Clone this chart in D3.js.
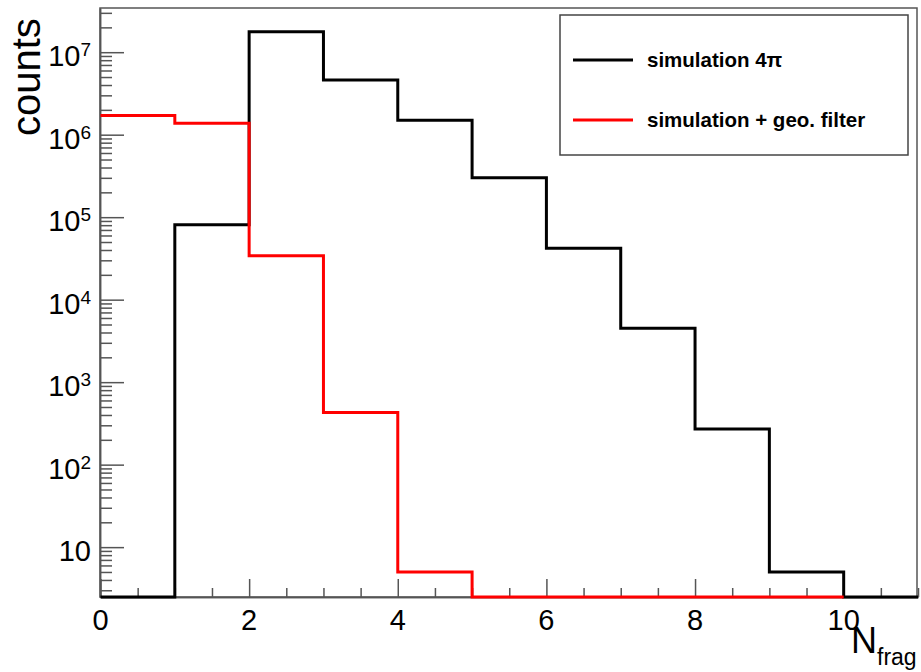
<!DOCTYPE html>
<html>
  <head>
    <style>
      body { margin: 0; background: #fff; }
      text { font-family: "Liberation Sans", Arial, Helvetica, sans-serif; fill: #000; }
      .hist { fill: none; stroke-width: 3px; stroke-linejoin: miter; }
      .axis path, .axis line { stroke: #555; stroke-width: 1.5px; }
    </style>
    <script src="https://cdn.jsdelivr.net/npm/d3@7"></script>
  </head>
  <body>
    <svg class="chart"></svg>

    <script>
      // bin edges 0..11, one count per bin
      const binEdges = [0, 1, 2, 3, 4, 5, 6, 7, 8, 9, 10, 11];
      const sim4pi = [0, 8.1e4, 1.77e7, 4.6e6, 1.5e6, 3.0e5, 4.2e4, 4.5e3, 270, 5, 0];
      const simGeo = [1.71e6, 1.38e6, 3.4e4, 430, 5, 0, 0, 0, 0, 0];
      const seriesNames = ['simulation 4\u03c0', 'simulation + geo. filter'];
      const seriesColors = ['#000', '#ff0000'];
      const xTickValues = [0, 2, 4, 6, 8, 10];
      const yMajorExps = [1, 2, 3, 4, 5, 6, 7];

      const width = 921;
      const height = 672;
      const frame = { left: 100, right: 917, top: 8, bottom: 597 };
      const yMin = 2.486;
      const yMax = 3.434e7;

      const svg = d3.select('svg')
        .attr('width', width)
        .attr('height', height);

      const x = d3.scaleLinear().domain([0, 11]).range([frame.left + 0.5, frame.right + 1]);
      const y = d3.scaleLog().domain([yMin, yMax]).range([frame.bottom, frame.top]);

      // minor ticks every 0.5 on x
      const xMinor = d3.range(0, 11.01, 0.5).filter(v => v % 2 !== 0);
      svg.append('g').attr('class', 'axis')
        .attr('transform', `translate(0,${frame.bottom})`)
        .call(d3.axisBottom(x).tickValues(xMinor).tickSize(-9).tickSizeOuter(0).tickFormat(''));
      svg.append('g').attr('class', 'axis')
        .attr('transform', `translate(0,${frame.bottom})`)
        .call(d3.axisBottom(x).tickValues(xTickValues).tickSize(-18).tickSizeOuter(0).tickFormat(''));

      // minor log ticks 2..9 x 10^k
      const yMinor = y.ticks().filter(v => {
        const m = v / Math.pow(10, Math.floor(Math.log10(v) + 1e-9));
        return Math.abs(m - 1) > 1e-6;
      });
      const yMajor = yMajorExps.map(e => Math.pow(10, e));
      svg.append('g').attr('class', 'axis')
        .attr('transform', `translate(${frame.left},0)`)
        .call(d3.axisLeft(y).tickValues(yMinor).tickSize(-12).tickSizeOuter(0).tickFormat(''));
      svg.append('g').attr('class', 'axis')
        .attr('transform', `translate(${frame.left},0)`)
        .call(d3.axisLeft(y).tickValues(yMajor).tickSize(-24).tickSizeOuter(0).tickFormat(''));

      // frame
      svg.append('rect')
        .attr('x', frame.left).attr('y', frame.top)
        .attr('width', frame.right - frame.left).attr('height', frame.bottom - frame.top)
        .attr('fill', 'none').attr('stroke', '#555').attr('stroke-width', 1.5);

      // x tick labels
      svg.selectAll('.xlab')
        .data(xTickValues)
        .join('text')
        .attr('x', d => x(d))
        .attr('y', 630)
        .attr('text-anchor', 'middle')
        .attr('font-size', 29)
        .text(d => d);

      // y tick labels with superscripts
      const ylab = svg.selectAll('.ylab')
        .data(yMajorExps)
        .join('text')
        .attr('x', 91)
        .attr('y', d => y(Math.pow(10, d)) + 14)
        .attr('text-anchor', 'end')
        .attr('font-size', 29);
      ylab.append('tspan').text('10');
      ylab.filter(d => d > 1).append('tspan')
        .attr('dy', -10).attr('font-size', 19).text(d => d);

      // axis titles
      svg.append('text')
        .attr('transform', 'translate(40,136) rotate(-90)')
        .attr('font-size', 40)
        .text('counts');
      const xt = svg.append('text').attr('x', 851).attr('y', 653).attr('font-size', 36);
      xt.append('tspan').text('N');
      xt.append('tspan').attr('dy', 12).attr('font-size', 23).text('frag');

      // histograms
      svg.append('clipPath').attr('id', 'clip')
        .append('rect')
        .attr('x', frame.left).attr('y', frame.top)
        .attr('width', frame.right - frame.left + 2).attr('height', frame.bottom - frame.top + 3);

      const line = d3.line()
        .x(d => x(d.x))
        .y(d => y(Math.max(d.v, yMin)))
        .curve(d3.curveStepAfter);

      function steps(vals) {
        const pts = vals.map((v, i) => ({ x: binEdges[i], v: v }));
        pts.push({ x: binEdges[vals.length], v: vals[vals.length - 1] });
        return pts;
      }

      [sim4pi, simGeo].forEach((vals, i) => {
        svg.append('path')
          .attr('class', 'hist')
          .attr('clip-path', 'url(#clip)')
          .attr('stroke', seriesColors[i])
          .attr('d', line(steps(vals)));
      });

      // legend
      const lg = svg.append('g');
      lg.append('rect')
        .attr('x', 560).attr('y', 15).attr('width', 348).attr('height', 140)
        .attr('fill', '#fff').attr('stroke', '#444').attr('stroke-width', 1.5);
      seriesNames.forEach((name, i) => {
        const ly = 60 + i * 60;
        lg.append('line')
          .attr('x1', 573).attr('x2', 633).attr('y1', ly).attr('y2', ly)
          .attr('stroke', seriesColors[i]).attr('stroke-width', 3);
        lg.append('text')
          .attr('x', 647).attr('y', ly + 7)
          .attr('font-size', 20.5).attr('font-weight', 'bold')
          .text(name);
      });
    </script>
  </body>
</html>
